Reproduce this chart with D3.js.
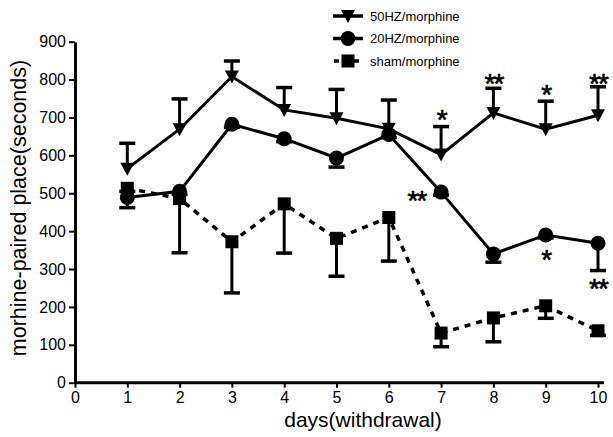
<!DOCTYPE html>
<html>
<head>
<meta charset="utf-8">
<script src="https://cdn.jsdelivr.net/npm/d3@7"></script>
<style>
  html, body { margin: 0; padding: 0; background: #fff; }
  svg { display: block; font-family: "Liberation Sans", Arial, sans-serif; }
</style>
</head>
<body>
<div id="chart"></div>
<script>
// Chart size
const width = 613;
const height = 437;

// Data
const days = [1, 2, 3, 4, 5, 6, 7, 8, 9, 10];
const hz50 = [565, 669, 808, 720, 698, 670, 602, 712, 669, 706];
const hz50Err = [67, 80, 41, 59, 76, 76, 74, 65, 74, 75];
const hz20 = [489, 505, 682, 644, 593, 655, 503, 340, 390, 368];
const hz20Err = [27, 8, 8, 8, 24, 8, 8, 22, 8, 72];
const sham = [513, 486, 372, 472, 381, 436, 131, 171, 203, 137];
const shamErr = [8, 143, 135, 130, 100, 115, 36, 63, 33, 12];

const xTicks = [0, 1, 2, 3, 4, 5, 6, 7, 8, 9, 10];
const yTicks = [0, 100, 200, 300, 400, 500, 600, 700, 800, 900];

const seriesNames = ['50HZ/morphine', '20HZ/morphine', 'sham/morphine'];

// significance marks: [day, value, label]
const marks = [
  [7, 711, '*'], [8, 806, '**'], [9, 777, '*'], [10, 806, '**'],
  [6.53, 498, '**'], [9, 342, '*'], [10, 266, '**']
];

// Scales
const x = d3.scaleLinear().domain([0, 10]).range([75, 598]);
const y = d3.scaleLinear().domain([0, 900]).range([382.7, 41.7]);

const svg = d3.select('#chart')
  .append('svg')
  .attr('width', width)
  .attr('height', height);

// Axes
const xAxis = d3.axisBottom(x).tickValues(xTicks).tickSize(5).tickSizeOuter(0).tickFormat(d3.format('d'));
const yAxis = d3.axisLeft(y).tickValues(yTicks).tickSize(6).tickSizeOuter(0);

const gx = svg.append('g')
  .attr('transform', `translate(0, ${y(0)})`)
  .call(xAxis);
gx.select('.domain').attr('d', `M${x(0)},0H${x(10) + 6}`);

const gy = svg.append('g')
  .attr('transform', `translate(${x(0)}, 0)`)
  .call(yAxis);

[gx, gy].forEach(g => {
  g.select('.domain').attr('stroke', '#000').attr('stroke-width', 3);
  g.selectAll('.tick line').attr('stroke', '#000').attr('stroke-width', 2);
  g.selectAll('.tick text').attr('fill', '#000').attr('font-size', 16)
    .attr('font-family', '"Liberation Sans", Arial, sans-serif');
});
gx.selectAll('.tick text').attr('dy', '0.85em').attr('y', 7);
gy.selectAll('.tick text').attr('x', -9);

// Axis titles
svg.append('text')
  .attr('x', 363)
  .attr('y', 427)
  .attr('text-anchor', 'middle')
  .attr('font-size', 21)
  .text('days(withdrawal)');

svg.append('text')
  .attr('transform', 'rotate(-90)')
  .attr('x', -208)
  .attr('y', 26)
  .attr('text-anchor', 'middle')
  .attr('font-size', 21.5)
  .text('morhine-paired place(seconds)');

// Helpers for drawing series
const line = d3.line().x(d => x(d[0])).y(d => y(d[1]));
const capW = 8;

function errorBars(vals, errs, dir) {
  const g = svg.append('g');
  days.forEach((d, i) => {
    const end = vals[i] + dir * errs[i];
    g.append('line')
      .attr('x1', x(d)).attr('x2', x(d))
      .attr('y1', y(vals[i])).attr('y2', y(end))
      .attr('stroke', '#000').attr('stroke-width', 3);
    g.append('line')
      .attr('x1', x(d) - capW).attr('x2', x(d) + capW)
      .attr('y1', y(end)).attr('y2', y(end))
      .attr('stroke', '#000').attr('stroke-width', 3.5);
  });
}

function seriesLine(vals, dashed) {
  svg.append('path')
    .datum(days.map((d, i) => [d, vals[i]]))
    .attr('d', line)
    .attr('fill', 'none')
    .attr('stroke', '#000')
    .attr('stroke-width', dashed ? 3.5 : 3)
    .attr('stroke-dasharray', dashed ? '6,6' : null);
}

const triPath = 'M-7,-6L7,-6L0,7Z';
function marker(g, kind) {
  if (kind === 0) g.append('path').attr('d', triPath);
  else if (kind === 1) g.append('circle').attr('r', 7.5);
  else g.append('rect').attr('x', -6.5).attr('y', -6.5).attr('width', 13).attr('height', 13);
  g.attr('fill', '#000');
}

function markers(vals, kind) {
  days.forEach((d, i) => {
    const g = svg.append('g').attr('transform', `translate(${x(d)}, ${y(vals[i])})`);
    marker(g, kind);
  });
}

// sham (dashed)
errorBars(sham, shamErr, -1);
seriesLine(sham, true);
markers(sham, 2);

// 20 Hz
errorBars(hz20, hz20Err, -1);
seriesLine(hz20, false);
markers(hz20, 1);

// 50 Hz
errorBars(hz50, hz50Err, 1);
seriesLine(hz50, false);
markers(hz50, 0);

// Significance marks
svg.append('g')
  .selectAll('text')
  .data(marks)
  .join('text')
  .attr('x', d => x(d[0]))
  .attr('y', d => y(d[1]) + 16)
  .attr('text-anchor', 'middle')
  .attr('font-size', 28)
  .attr('letter-spacing', -2)
  .attr('stroke', '#000')
  .attr('stroke-width', 0.6)
  .text(d => d[2]);

// Legend
const legend = svg.append('g');
seriesNames.forEach((name, i) => {
  const ly = 16 + i * 22.5;
  legend.append('line')
    .attr('x1', 333).attr('x2', 363)
    .attr('y1', ly).attr('y2', ly)
    .attr('stroke', '#000').attr('stroke-width', 3.5)
    .attr('stroke-dasharray', i === 2 ? '5,5' : null)
    .attr('stroke-dashoffset', i === 2 ? -1 : null);
  const g = legend.append('g').attr('transform', `translate(348, ${ly})`);
  marker(g, i);
  legend.append('text')
    .attr('x', 370)
    .attr('y', ly + 4.5)
    .attr('font-size', 13)
    .text(name);
});
</script>
</body>
</html>
